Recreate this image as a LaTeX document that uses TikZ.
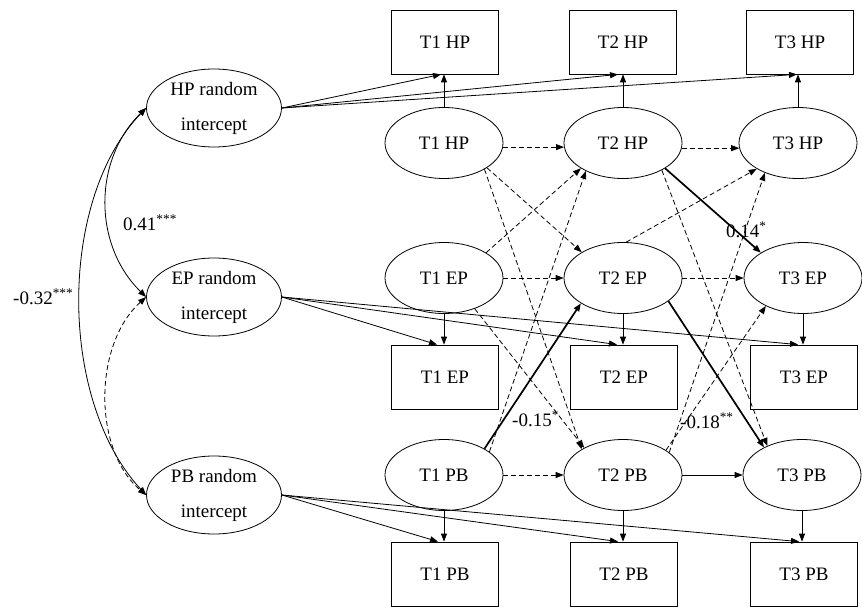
\documentclass[tikz,border=0pt]{standalone}
\usepackage{fontspec}
\setmainfont{Liberation Serif}
\usetikzlibrary{shapes.geometric,arrows.meta}
\begin{document}
\begin{tikzpicture}[x=1pt,y=-1pt,
  font=\fontsize{19}{35}\selectfont,
  lat/.style={ellipse,draw,line width=0.8pt,minimum width=118pt,minimum height=71pt,inner sep=0pt},
  ri/.style={ellipse,draw,line width=0.8pt,minimum width=135pt,minimum height=78pt,inner sep=0pt,align=center},
  obs/.style={rectangle,draw,line width=0.8pt,minimum width=107pt,minimum height=64pt,inner sep=0pt},
  arr/.style={line width=0.8pt,-{Triangle[length=8pt,width=6pt]}},
  dsh/.style={arr,dash pattern=on 5pt off 3pt},
  bld/.style={arr,line width=1.7pt},
  dbl/.style={line width=0.8pt,{Triangle[length=8pt,width=6pt]}-{Triangle[length=8pt,width=6pt]}},
  lab/.style={anchor=base west,inner sep=0pt}
]
\useasboundingbox (0,0) rectangle (862,607);

% random intercepts
\node[ri] (HPri) at (214,108) {HP random\\intercept};
\node[ri] (EPri) at (214,297) {EP random\\intercept};
\node[ri] (PBri) at (214,495) {PB random\\intercept};

% latent
\node[lat] (T1HP) at (444,143) {T1 HP};
\node[lat] (T2HP) at (623,143) {T2 HP};
\node[lat] (T3HP) at (798,143) {T3 HP};
\node[lat] (T1EP) at (444,278) {T1 EP};
\node[lat] (T2EP) at (623,278) {T2 EP};
\node[lat] (T3EP) at (803,278) {T3 EP};
\node[lat] (T1PB) at (444,475) {T1 PB};
\node[lat] (T2PB) at (623,475) {T2 PB};
\node[lat] (T3PB) at (802,475) {T3 PB};

% observed
\node[obs] (B1HP) at (445,42) {T1 HP};
\node[obs] (B2HP) at (623,42) {T2 HP};
\node[obs] (B3HP) at (800,42) {T3 HP};
\node[obs] (B1EP) at (445,377) {T1 EP};
\node[obs] (B2EP) at (624,377) {T2 EP};
\node[obs] (B3EP) at (804,377) {T3 EP};
\node[obs] (B1PB) at (445,574) {T1 PB};
\node[obs] (B2PB) at (624,574) {T2 PB};
\node[obs] (B3PB) at (804,574) {T3 PB};

% intercept loadings
\draw[arr] (HPri.east) -- ([xshift=-4pt]B1HP.south);
\draw[arr] (HPri.east) -- ([xshift=-5pt]B2HP.south);
\draw[arr] (HPri.east) -- ([xshift=-3pt]B3HP.south);
\draw[arr] (EPri.east) -- ([xshift=-8pt]B1EP.north);
\draw[arr] (EPri.east) -- ([xshift=-7pt]B2EP.north);
\draw[arr] (EPri.east) -- ([xshift=-6pt]B3EP.north);
\draw[arr] (PBri.east) -- ([xshift=-7pt]B1PB.north);
\draw[arr] (PBri.east) -- ([xshift=-6pt]B2PB.north);
\draw[arr] (PBri.east) -- ([xshift=-5pt]B3PB.north);

% latent to observed
\draw[arr] (T1HP.north) -- (T1HP.north |- B1HP.south);
\draw[arr] (T2HP.north) -- (T2HP.north |- B2HP.south);
\draw[arr] (T3HP.north) -- (T3HP.north |- B3HP.south);
\draw[arr] (T1EP.south) -- (T1EP.south |- B1EP.north);
\draw[arr] (T2EP.south) -- (T2EP.south |- B2EP.north);
\draw[arr] (T3EP.south) -- (T3EP.south |- B3EP.north);
\draw[arr] (T1PB.south) -- (T1PB.south |- B1PB.north);
\draw[arr] (T2PB.south) -- (T2PB.south |- B2PB.north);
\draw[arr] (T3PB.south) -- (T3PB.south |- B3PB.north);

% autoregressive
\draw[dsh] (T1HP.-4) -- (T2HP.184);
\draw[dsh] (T1EP.0) -- (T2EP.180);
\draw[dsh] (T1PB.0) -- (T2PB.180);
\draw[dsh] (T2HP.-5) -- (T3HP.185);
\draw[dsh] (T2EP.0) -- (T3EP.180);
\draw[arr] (T2PB.0) -- (T3PB.180);

% cross-lagged T1 -> T2
\draw[dsh] (T1HP.-30) -- (T2EP.148);
\draw[dsh] (T1HP.-33) -- (T2PB.148);
\draw[dsh] (T1EP.31) -- (T2HP.211);
\draw[dsh] (T1EP.-45) -- (T2PB.145);
\draw[dsh] (T1PB.27) -- (T2HP.217);
\draw[bld] (T1PB.33) -- (T2EP.211);

% cross-lagged T2 -> T3
\draw[bld] (T2HP.-31) -- (T3EP.149);
\draw[dsh] (T2HP.-35) -- (T3PB.140);
\draw[dsh] (T2EP.85) -- (T3HP.212);
\draw[bld] (T2EP.-27) -- (T3PB.144);
\draw[dsh] (T2PB.26) -- (T3HP.222);
\draw[dsh] (T2PB.30) -- (T3EP.217);

% covariances
\draw[dbl] (HPri.west) .. controls (93,160) and (93,245) .. (EPri.west);
\draw[dbl] (HPri.west) .. controls (58,200) and (58,400) .. (PBri.west);
\draw[dbl,dash pattern=on 5pt off 3pt] (EPri.west) .. controls (93,345) and (93,450) .. (PBri.west);

% labels
\node[lab] (L041) at (123,230) {0.41\textsuperscript{***}};
\node[lab] (L032) at (13,304) {-0.32\textsuperscript{***}};
\node[lab] (L015) at (512,426) {-0.15\textsuperscript{*}};
\node[lab] (L018) at (680,428) {-0.18\textsuperscript{**}};
\node[lab] (L014) at (726,237) {0.14\textsuperscript{*}};
\end{tikzpicture}
\end{document}
